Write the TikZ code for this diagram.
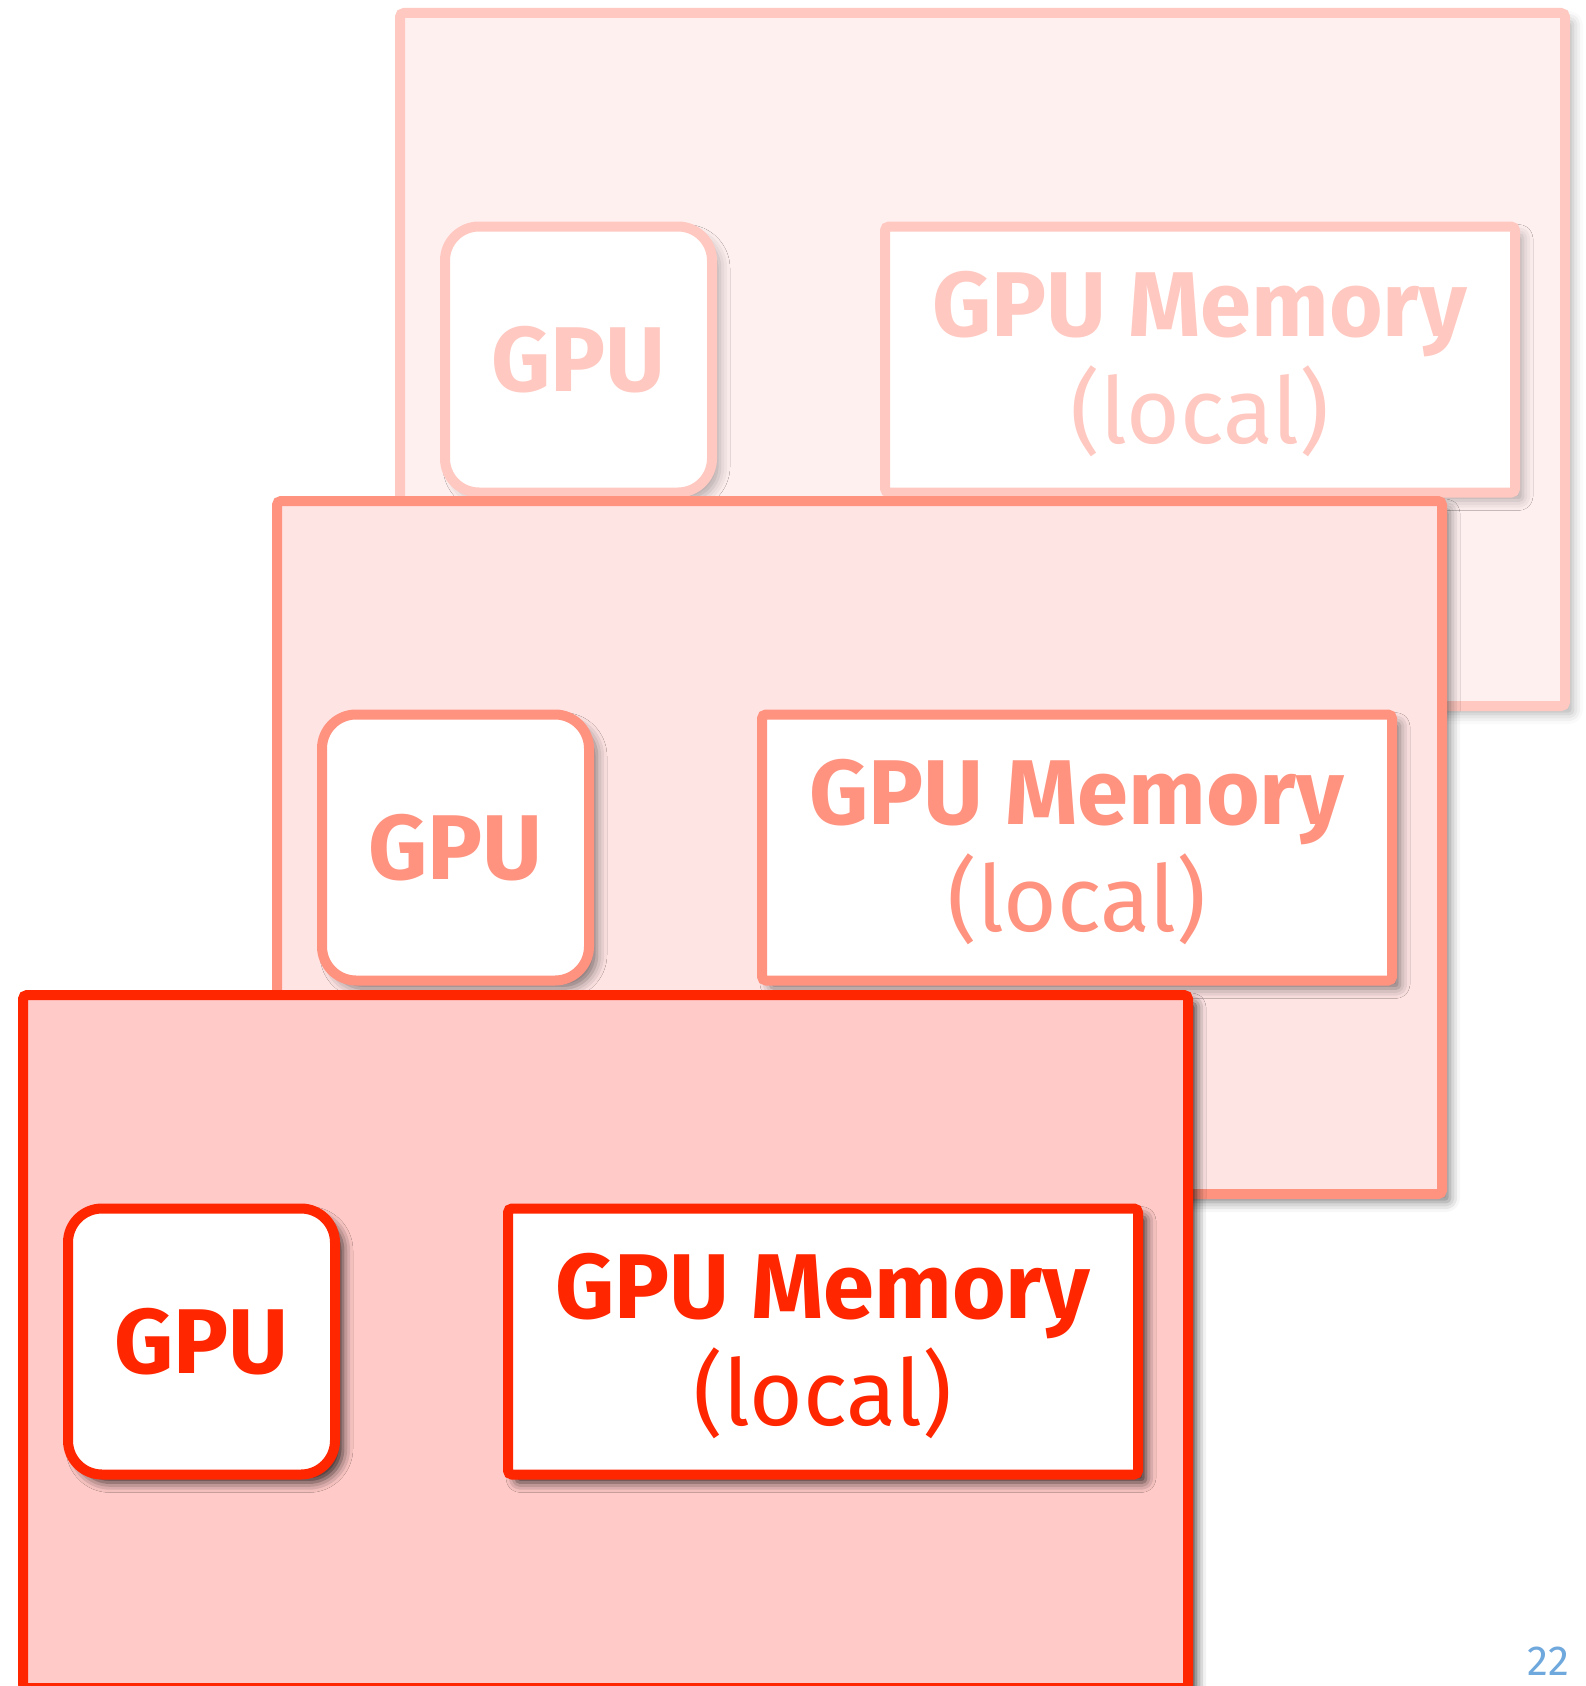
\documentclass[tikz,border=0pt]{standalone}
\usepackage{fontspec}
\setmainfont{Fira Sans}
\usetikzlibrary{positioning,shadows.blur}

\definecolor{frontline}{RGB}{255,38,0}
\definecolor{frontfill}{RGB}{255,202,200}
\definecolor{midline}{RGB}{255,147,128}
\definecolor{midfill}{RGB}{255,228,228}
\definecolor{backline}{RGB}{255,200,192}
\definecolor{backfill}{RGB}{255,240,240}
\definecolor{pageblue}{RGB}{111,168,220}

\newcommand{\shadeop}{70}

\tikzset{every picture/.style={line width=0.75pt}}
\tikzset{
  softshadow/.style={blur shadow={shadow xshift=4pt, shadow yshift=-4pt,
    shadow blur radius=5pt, shadow opacity=\shadeop}},
  board/.style={draw=#1line, fill=#1fill, line width=5pt, rounded corners=2pt,
    minimum width=582.5pt, minimum height=346.5pt, inner sep=0pt, softshadow},
  chip/.style={draw=#1line, fill=white, text=#1line, line width=5pt, rounded corners=17pt,
    minimum width=133.5pt, minimum height=133pt, inner sep=0pt,
    font=\fontsize{46pt}{53.5pt}\selectfont\bfseries, softshadow},
  memory/.style={draw=#1line, fill=white, text=#1line, line width=5pt, rounded corners=2pt,
    minimum width=315pt, minimum height=133pt, inner sep=0pt, align=center, text depth=2pt,
    font=\fontsize{46pt}{53.5pt}\selectfont, softshadow},
  pagenum/.style={text=pageblue, font=\fontsize{21pt}{24pt}\selectfont, inner sep=0pt}
}

\begin{document}
\begin{tikzpicture}[x=0.5pt,y=0.5pt,yscale=-1,xscale=1]
\useasboundingbox (0,0) rectangle (1585,1686);

% back layer
\renewcommand{\shadeop}{30}
\node [board=back] (backboard) at (982.5,359.5) {};
\node [chip=back, right=22.5pt of backboard.west] (backgpu) {GPU};
\node [memory=back, right=242.5pt of backboard.west] (backmem) {\textbf{GPU Memory}\\(local)};

% middle layer
\renewcommand{\shadeop}{50}
\node [board=mid] (midboard) at (859.5,847.5) {};
\node [chip=mid, right=22.5pt of midboard.west] (midgpu) {GPU};
\node [memory=mid, right=242.5pt of midboard.west] (midmem) {\textbf{GPU Memory}\\(local)};

% front layer
\renewcommand{\shadeop}{80}
\node [board=front] (frontboard) at (605.5,1341.5) {};
\node [chip=front, right=22.5pt of frontboard.west] (frontgpu) {GPU};
\node [memory=front, right=242.5pt of frontboard.west] (frontmem) {\textbf{GPU Memory}\\(local)};

% slide number
\node [pagenum, anchor=south east] (slideno) at (1570,1676) {22};

\end{tikzpicture}
\end{document}
